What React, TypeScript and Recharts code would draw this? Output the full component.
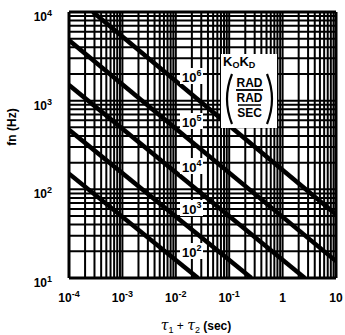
import React from 'react';
import {
  ComposedChart,
  Line,
  XAxis,
  YAxis,
  ReferenceLine,
} from 'recharts';

// tau1 + tau2 (sec) grid, 1..9 per decade
const xGrid = [
  0.0001, 0.0002, 0.0003, 0.0004, 0.0005, 0.0006, 0.0007, 0.0008, 0.0009,
  0.001, 0.002, 0.003, 0.004, 0.005, 0.006, 0.007, 0.008, 0.009,
  0.01, 0.02, 0.03, 0.04, 0.05, 0.06, 0.07, 0.08, 0.09,
  0.1, 0.2, 0.3, 0.4, 0.5, 0.6, 0.7, 0.8, 0.9,
  1, 2, 3, 4, 5, 6, 7, 8, 9, 10,
];

// fn (Hz) grid
const yGrid = [
  10, 20, 30, 40, 50, 60, 70, 80, 90,
  100, 200, 300, 400, 500, 600, 700, 800, 900,
  1000, 2000, 3000, 4000, 5000, 6000, 7000, 8000, 9000, 10000,
];

const xTicks = [0.0001, 0.001, 0.01, 0.1, 1, 10];
const xTickLabels = [['10', '-4'], ['10', '-3'], ['10', '-2'], ['10', '-1'], ['1', ''], ['10', '']];
const yTicks = [10, 100, 1000, 10000];
const yTickLabels = [['10', '1'], ['10', '2'], ['10', '3'], ['10', '4']];

// K0Kd lines, endpoints
const k100 = [{ x: 0.0001, y: 150 }, { x: 0.026, y: 10 }];
const k1000 = [{ x: 0.0001, y: 470 }, { x: 0.26, y: 10 }];
const k10000 = [{ x: 0.0001, y: 1500 }, { x: 2.6, y: 10 }];
const k100000 = [{ x: 0.0001, y: 4800 }, { x: 10, y: 15.5 }];
const k1000000 = [{ x: 0.00028, y: 10000 }, { x: 10, y: 52 }];

const lineLabels = [
  { exp: '6', y: 82 },
  { exp: '5', y: 127 },
  { exp: '4', y: 172 },
  { exp: '3', y: 214 },
  { exp: '2', y: 257 },
];

const FONT = "'Liberation Sans', Arial, sans-serif";

const XTick = (props: any) => {
  const i = xTicks.indexOf(props.payload.value);
  const [base, exp] = xTickLabels[i] || ['', ''];
  return (
    <text x={props.x} y={302} textAnchor="middle" fontFamily={FONT} fontWeight="bold" fontSize={12} fill="#000">
      <tspan>{base}</tspan>
      {exp && <tspan dy={-5} fontSize={9}>{exp}</tspan>}
    </text>
  );
};

const YTick = (props: any) => {
  const i = yTicks.indexOf(props.payload.value);
  const [base, exp] = yTickLabels[i] || ['', ''];
  return (
    <text x={52} y={props.y + 9} textAnchor="end" fontFamily={FONT} fontWeight="bold" fontSize={12} fill="#000">
      <tspan>{base}</tspan>
      <tspan dy={-5} fontSize={9}>{exp}</tspan>
    </text>
  );
};

// drawn over the plot: line labels, K0Kd units box and axis titles
const Overlay = () => (
  <svg
    width={345}
    height={335}
    style={{ position: 'absolute', left: 0, top: 0, pointerEvents: 'none' }}
  >
    <g fontFamily={FONT} fontWeight="bold" fill="#000">
      {lineLabels.map((l) => (
        <g key={l.exp}>
          <rect x={180} y={l.y - 14} width={23} height={16} fill="#fff" />
          <text x={182} y={l.y} fontSize={13}>
            <tspan>10</tspan>
            <tspan dy={-6} fontSize={9}>{l.exp}</tspan>
          </text>
        </g>
      ))}
      <rect x={221} y={54} width={56} height={74} fill="#fff" />
      <text x={223} y={66} fontSize={13}>
        <tspan>K</tspan>
        <tspan dy={2} fontSize={9}>O</tspan>
        <tspan dy={-2}>K</tspan>
        <tspan dy={2} fontSize={9}>D</tspan>
      </text>
      <path d="M232 74 Q222 99 232 124" fill="none" stroke="#000" strokeWidth={2.2} />
      <path d="M267 74 Q277 99 267 124" fill="none" stroke="#000" strokeWidth={2.2} />
      <text x={249.5} y={87} fontSize={12} textAnchor="middle">RAD</text>
      <line x1={236} x2={263} y1={90} y2={90} stroke="#000" strokeWidth={1.8} />
      <text x={249.5} y={102} fontSize={12} textAnchor="middle">RAD</text>
      <line x1={238} x2={261} y1={105} y2={105} stroke="#000" strokeWidth={1.5} />
      <text x={249.5} y={117} fontSize={12} textAnchor="middle">SEC</text>
      <text x={12} y={127} fontSize={12} textAnchor="middle" transform="rotate(-90 12 127)" dy={4}>
        fn (Hz)
      </text>
      <text x={196} y={330} fontSize={12} textAnchor="middle">
        <tspan fontFamily="'DejaVu Serif', serif" fontStyle="italic" fontWeight="normal" fontSize={14}>τ</tspan>
        <tspan dy={3} fontSize={9} fontWeight="normal">1</tspan>
        <tspan dy={-3} fontWeight="normal"> + </tspan>
        <tspan fontFamily="'DejaVu Serif', serif" fontStyle="italic" fontWeight="normal" fontSize={14}>τ</tspan>
        <tspan dy={3} fontSize={9} fontWeight="normal">2</tspan>
        <tspan dy={-3}> (sec)</tspan>
      </text>
    </g>
  </svg>
);

export default function App() {
  const series = [k100, k1000, k10000, k100000, k1000000];
  return (
    <div style={{ position: 'absolute', left: 0, top: 0, width: 345, height: 335, background: '#fff' }}>
      <ComposedChart width={345} height={335} margin={{ top: 12, right: 9, bottom: 0, left: 0 }}>
        <XAxis
          dataKey="x"
          type="number"
          scale="log"
          domain={[0.0001, 10]}
          ticks={xTicks}
          tick={<XTick />}
          tickLine={false}
          axisLine={false}
          height={57}
          allowDataOverflow
        />
        <YAxis
          dataKey="y"
          type="number"
          scale="log"
          domain={[10, 10000]}
          ticks={yTicks}
          tick={<YTick />}
          tickLine={false}
          axisLine={false}
          width={69}
          allowDataOverflow
        />
        {xGrid.map((v) => (
          <ReferenceLine
            key={`x${v}`}
            x={v}
            stroke="#000"
            strokeWidth={v === 0.0001 || v === 10 ? 3 : 2}
          />
        ))}
        {yGrid.map((v) => (
          <ReferenceLine
            key={`y${v}`}
            y={v}
            stroke="#000"
            strokeWidth={v === 10 || v === 10000 ? 3 : 2}
          />
        ))}
        {series.map((d, i) => (
          <Line
            key={i}
            data={d}
            dataKey="y"
            stroke="#000"
            strokeWidth={4.5}
            dot={false}
            isAnimationActive={false}
          />
        ))}
      </ComposedChart>
      <Overlay />
    </div>
  );
}
